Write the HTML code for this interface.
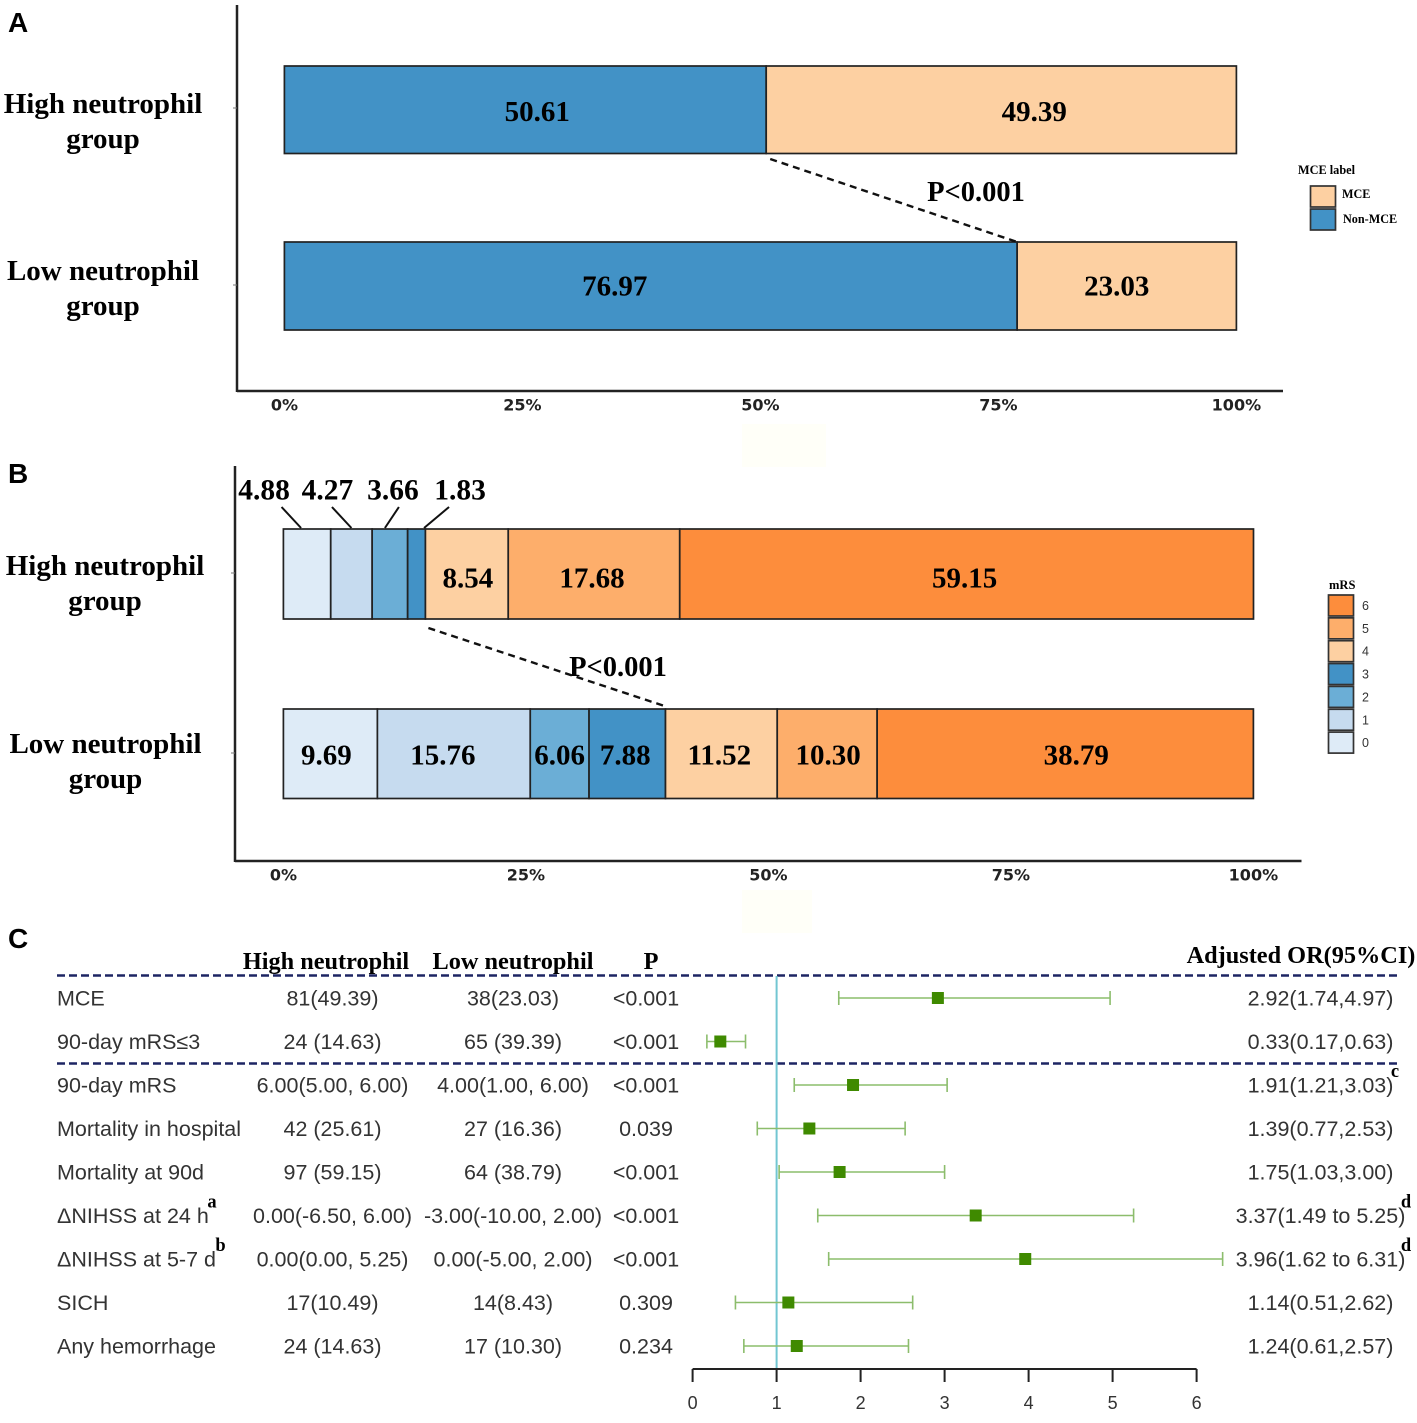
<!DOCTYPE html>
<html lang="en">
<head>
<meta charset="utf-8">
<title>Neutrophil group outcomes</title>
<style>
html,body{margin:0;padding:0;background:#fff;width:1417px;height:1423px;overflow:hidden}
svg{display:block}
.serif{font-family:"Liberation Serif",serif;font-weight:bold;fill:#000}
.sans{font-family:"Liberation Sans",sans-serif;fill:#333}
.tick{font-family:"DejaVu Sans",sans-serif;font-weight:bold;font-size:16px;fill:#222}
</style>
</head>
<body>
<svg id="figure" xmlns="http://www.w3.org/2000/svg" width="1417" height="1423" viewBox="0 0 1417 1423">
  <rect x="0" y="0" width="1417" height="1423" fill="#fff"/>
  <rect x="742" y="424" width="84" height="43" fill="#fffff8"/>
  <rect x="742" y="890" width="70" height="43" fill="#fffff8"/>
  <text x="8" y="32" font-family="Liberation Sans" font-weight="bold" font-size="28">A</text>
  <text x="8" y="483" font-family="Liberation Sans" font-weight="bold" font-size="28">B</text>
  <text x="8" y="948" font-family="Liberation Sans" font-weight="bold" font-size="28">C</text>
  <text class="serif" x="976" y="201" text-anchor="middle" font-size="28.5">P&lt;0.001</text>
  <text class="serif" x="618" y="676" text-anchor="middle" font-size="28.5">P&lt;0.001</text>
  <text class="serif" x="1298" y="174" font-size="12.3">MCE label</text>
  <text class="serif" x="1329" y="589" font-size="12.5">mRS</text>
  <text class="serif" x="326" y="969" text-anchor="middle" font-size="24.3">High neutrophil</text>
  <text class="serif" x="513" y="969" text-anchor="middle" font-size="24.3">Low neutrophil</text>
  <text class="serif" x="651" y="969" text-anchor="middle" font-size="24.3">P</text>
  <text class="serif" x="1301" y="963" text-anchor="middle" font-size="24.3">Adjusted OR(95%CI)</text>
  <g id="layer"></g>
</svg>
<script>
// ---- Data ----
const axisTicks = [0, 25, 50, 75, 100];
const axisTickLabels = ['0%', '25%', '50%', '75%', '100%'];
const groupLines = [['High neutrophil', 'group'], ['Low neutrophil', 'group']];

const mceCategories = ['Non-MCE', 'MCE'];
const mceHigh = [50.61, 49.39];
const mceLow = [76.97, 23.03];

const mrsCategories = ['0', '1', '2', '3', '4', '5', '6'];
const mrsHigh = [4.88, 4.27, 3.66, 1.83, 8.54, 17.68, 59.15];
const mrsLow = [9.69, 15.76, 6.06, 7.88, 11.52, 10.30, 38.79];

const rowLabels = ['MCE', '90-day mRS≤3', '90-day mRS', 'Mortality in hospital', 'Mortality at 90d', 'ΔNIHSS at 24 h', 'ΔNIHSS at 5-7 d', 'SICH', 'Any hemorrhage'];
const highColumn = ['81(49.39)', '24 (14.63)', '6.00(5.00, 6.00)', '42 (25.61)', '97 (59.15)', '0.00(-6.50, 6.00)', '0.00(0.00, 5.25)', '17(10.49)', '24 (14.63)'];
const lowColumn = ['38(23.03)', '65 (39.39)', '4.00(1.00, 6.00)', '27 (16.36)', '64 (38.79)', '-3.00(-10.00, 2.00)', '0.00(-5.00, 2.00)', '14(8.43)', '17 (10.30)'];
const pColumn = ['<0.001', '<0.001', '<0.001', '0.039', '<0.001', '<0.001', '<0.001', '0.309', '0.234'];
const orColumn = ['2.92(1.74,4.97)', '0.33(0.17,0.63)', '1.91(1.21,3.03)', '1.39(0.77,2.53)', '1.75(1.03,3.00)', '3.37(1.49 to 5.25)', '3.96(1.62 to 6.31)', '1.14(0.51,2.62)', '1.24(0.61,2.57)'];
const orEstimate = [2.92, 0.33, 1.91, 1.39, 1.75, 3.37, 3.96, 1.14, 1.24];
const orLower = [1.74, 0.17, 1.21, 0.77, 1.03, 1.49, 1.62, 0.51, 0.61];
const orUpper = [4.97, 0.63, 3.03, 2.53, 3.00, 5.25, 6.31, 2.62, 2.57];
const forestTicks = [0, 1, 2, 3, 4, 5, 6];

// ---- Axis functions ----
const xA = v => 284.4 + v * 9.52;
const xB = v => 283.4 + v * 9.70;
const xF = v => 692.6 + v * 84;
const rowY = i => 998 + i * 43.5;

// ---- Drawing helpers ----
const layer = document.getElementById('layer');
const NS = 'http://www.w3.org/2000/svg';
function mk(tag, attrs, txt) {
  const el = document.createElementNS(NS, tag);
  for (const k in attrs) el.setAttribute(k, attrs[k]);
  if (txt !== undefined) el.textContent = txt;
  layer.appendChild(el);
  return el;
}
function named(el, name, on) {
  
  
  return el;
}
const mceColors = ['#4292c6', '#fdd0a2'];
const mrsColors = ['#deebf7', '#c6dbef', '#6baed6', '#4292c6', '#fdd0a2', '#fdae6b', '#fd8d3c'];
const EDGE = '#222';

function axes(prefix, x0, yTop, yBot, xEnd, xScale, tickY, groupYs) {
  named(mk('line', {x1: x0, y1: yTop, x2: x0, y2: yBot + 1, stroke: '#222', 'stroke-width': 2.5}), prefix + '-y-axis');
  named(mk('line', {x1: x0, y1: yBot, x2: xEnd, y2: yBot, stroke: '#222', 'stroke-width': 2.5}), prefix + '-x-axis');
  axisTicks.forEach((t, i) => {
    named(mk('text', {x: xScale(t), y: tickY, 'text-anchor': 'middle', class: 'tick'}, axisTickLabels[i]), prefix + '-x-tick-' + t);
  });
  groupYs.forEach(y => {
    named(mk('line', {x1: x0 - 4, y1: y, x2: x0, y2: y, stroke: '#777', 'stroke-width': 1}), prefix + '-y-tick');
  });
}
function groupLabel(prefix, lines, cx, y1, y2) {
  named(mk('text', {x: cx, y: y1, 'text-anchor': 'middle', class: 'serif', 'font-size': 29}, lines[0]), prefix + '-group-name');
  named(mk('text', {x: cx, y: y2, 'text-anchor': 'middle', class: 'serif', 'font-size': 29}, lines[1]), prefix + '-group-word');
}
function stack(prefix, values, colors, xScale, yTop, h, names) {
  let cum = 0;
  values.forEach((v, i) => {
    const r = mk('rect', {x: xScale(cum), y: yTop, width: xScale(cum + v) - xScale(cum), height: h, fill: colors[i], stroke: EDGE, 'stroke-width': 1.7});
    named(r, prefix + '-segment-' + names[i].toLowerCase());
    cum += v;
  });
}
function segCenter(values, i, xScale) {
  let c = 0;
  for (let k = 0; k < i; k++) c += values[k];
  return xScale(c + values[i] / 2);
}
function barLabel(prefix, values, i, xScale, y, shift) {
  const t = mk('text', {x: segCenter(values, i, xScale) + shift, y: y, 'text-anchor': 'middle', class: 'serif', 'font-size': 29}, values[i].toFixed(2));
  named(t, prefix + '-value-' + i);
}

// ---- Panel A ----
axes('panel-a', 237, 5, 391, 1283, xA, 410.5, [108, 285]);
groupLabel('panel-a-high', groupLines[0], 103, 113, 148);
groupLabel('panel-a-low', groupLines[1], 103, 280, 315);
stack('panel-a-high', mceHigh, mceColors, xA, 66, 87.5, mceCategories);
stack('panel-a-low', mceLow, mceColors, xA, 242, 88, mceCategories);
[12, 33].forEach((s, i) => barLabel('panel-a-high', mceHigh, i, xA, 121, s));
[-36, -10].forEach((s, i) => barLabel('panel-a-low', mceLow, i, xA, 295.5, s));
named(mk('line', {x1: xA(mceHigh[0]) + 4, y1: 159, x2: xA(mceLow[0]), y2: 242, stroke: '#111', 'stroke-width': 2.4, 'stroke-dasharray': '7 5'}), 'panel-a-connector');

// Legend A
[['MCE', 1], ['Non-MCE', 0]].forEach((e, i) => {
  const y = 186 + i * 23;
  named(mk('rect', {x: 1310.5, y: y, width: 25, height: 21, fill: mceColors[e[1]], stroke: '#333', 'stroke-width': 1.7}), 'legend-a-swatch-' + e[0].toLowerCase());
  named(mk('text', {x: 1342 + i, y: y + 12 + i * 2, class: 'serif', 'font-size': 12.2}, e[0]), 'legend-a-label-' + e[0].toLowerCase());
});

// ---- Panel B ----
axes('panel-b', 235, 466, 861, 1301.5, xB, 880.5, [573, 753]);
groupLabel('panel-b-high', groupLines[0], 105, 575, 610);
groupLabel('panel-b-low', groupLines[1], 105.5, 753, 788);
stack('panel-b-high', mrsHigh, mrsColors, xB, 529, 90, mrsCategories);
stack('panel-b-low', mrsLow, mrsColors, xB, 709, 89.5, mrsCategories);
[1, -2, -2].forEach((s, i) => barLabel('panel-b-high', mrsHigh, i + 4, xB, 587.5, s));
[-4, -11, 0, -2, -2, 1, 11].forEach((s, i) => barLabel('panel-b-low', mrsLow, i, xB, 764.5, s));

// Small-segment call-out labels with leader lines
const calloutShift = [-43, -24, 3, 43.5];
const leaderTopShift = [-25.5, -19.5, 9, 32.5];
const leaderBottomShift = [-6, 0, -5, 7.5];
for (let i = 0; i < 4; i++) {
  const c = segCenter(mrsHigh, i, xB);
  named(mk('text', {x: c + calloutShift[i], y: 499.5, 'text-anchor': 'middle', class: 'serif', 'font-size': 29.5}, mrsHigh[i].toFixed(2)), 'panel-b-callout-' + i);
  named(mk('line', {x1: c + leaderTopShift[i], y1: 507, x2: c + leaderBottomShift[i], y2: 528, stroke: '#111', 'stroke-width': 2}), 'panel-b-leader-' + i);
}
const sumTo = (arr, n) => arr.slice(0, n).reduce((a, b) => a + b, 0);
named(mk('line', {x1: xB(sumTo(mrsHigh, 4)) + 3, y1: 628, x2: xB(sumTo(mrsLow, 4)) - 1, y2: 706, stroke: '#111', 'stroke-width': 2.4, 'stroke-dasharray': '7 5'}), 'panel-b-connector');

// Legend B
mrsCategories.slice().reverse().forEach((cat, i) => {
  const y = 595 + i * 22.85;
  const color = mrsColors[mrsCategories.length - 1 - i];
  named(mk('rect', {x: 1328.5, y: y, width: 25, height: 21, fill: color, stroke: '#333', 'stroke-width': 1.7}), 'legend-b-swatch-' + cat);
  named(mk('text', {x: 1362, y: y + 15, class: 'sans', 'font-size': 12.5}, cat), 'legend-b-label-' + cat);
});

// ---- Panel C ----
[975.5, 1063.5].forEach((y, i) => {
  named(mk('line', {x1: 57, y1: y, x2: 1401, y2: y, stroke: '#1d2563', 'stroke-width': 2.4, 'stroke-dasharray': '8 4'}), 'table-divider-' + i);
});
named(mk('line', {x1: xF(1), y1: 976, x2: xF(1), y2: 1369, stroke: '#72c6d2', 'stroke-width': 2}), 'reference-line');

rowLabels.forEach((label, i) => {
  const y = rowY(i);
  const base = y + 7.5;
  named(mk('text', {x: 57, y: base, class: 'sans', 'font-size': 21.5}, label), 'row-label-' + i);
  named(mk('text', {x: 332.5, y: base, 'text-anchor': 'middle', class: 'sans', 'font-size': 21.5}, highColumn[i]), 'high-value-' + i);
  named(mk('text', {x: 513, y: base, 'text-anchor': 'middle', class: 'sans', 'font-size': 21.5}, lowColumn[i]), 'low-value-' + i);
  named(mk('text', {x: 646, y: base, 'text-anchor': 'middle', class: 'sans', 'font-size': 21.5}, pColumn[i]), 'p-value-' + i);
  named(mk('text', {x: 1320.5, y: base, 'text-anchor': 'middle', class: 'sans', 'font-size': 21.5}, orColumn[i]), 'or-text-' + i);

  named(mk('line', {x1: xF(orLower[i]), y1: y, x2: xF(orUpper[i]), y2: y, stroke: '#8cbd6c', 'stroke-width': 1.6}), 'ci-line-' + i);
  named(mk('line', {x1: xF(orLower[i]), y1: y - 7, x2: xF(orLower[i]), y2: y + 7, stroke: '#8cbd6c', 'stroke-width': 1.6}), 'ci-cap-low-' + i);
  named(mk('line', {x1: xF(orUpper[i]), y1: y - 7, x2: xF(orUpper[i]), y2: y + 7, stroke: '#8cbd6c', 'stroke-width': 1.6}), 'ci-cap-high-' + i);
  named(mk('rect', {x: xF(orEstimate[i]) - 6, y: y - 6, width: 12, height: 12, fill: '#3f8a00'}), 'or-point-' + i);
});

// Footnote markers
const noteLetters = ['a', 'b', 'c', 'd', 'd'];
const noteRows = [5, 6, 2, 5, 6];
const noteX = [212, 220.5, 1395, 1406, 1406];
noteLetters.forEach((n, i) => {
  named(mk('text', {x: noteX[i], y: rowY(noteRows[i]) - 8, 'text-anchor': 'middle', class: 'serif', 'font-size': 18.5}, n), 'footnote-' + i);
});

// Forest axis
named(mk('line', {x1: xF(0), y1: 1369, x2: xF(6), y2: 1369, stroke: '#222', 'stroke-width': 2}), 'forest-x-axis');
forestTicks.forEach(t => {
  named(mk('line', {x1: xF(t), y1: 1369, x2: xF(t), y2: 1382, stroke: '#222', 'stroke-width': 2}), 'forest-tick-' + t);
  named(mk('text', {x: xF(t), y: 1409, 'text-anchor': 'middle', class: 'sans', 'font-size': 18}, String(t)), 'forest-tick-label-' + t);
});
</script>
</body>
</html>
